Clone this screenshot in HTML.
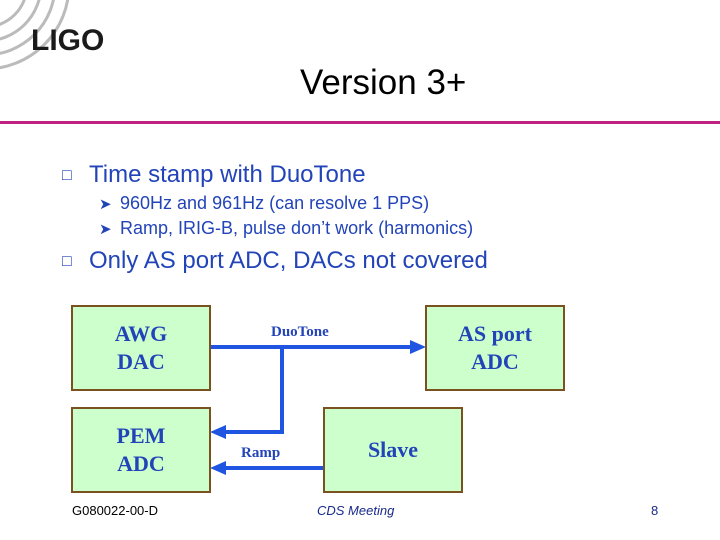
<!DOCTYPE html>
<html><head><meta charset="utf-8"><style>
body{margin:0;width:720px;height:540px;background:#fff;position:relative;overflow:hidden;font-family:"Liberation Sans",sans-serif}
.a{position:absolute;white-space:nowrap}
.t{color:#2244b8}
.box{position:absolute;background:#ccffcc;border:2px solid #7a5220;box-sizing:border-box;display:flex;align-items:center;justify-content:center;text-align:center;font-family:"Liberation Serif",serif;font-weight:bold;font-size:22px;line-height:28px;color:#2244b8}
.lbl{position:absolute;font-family:"Liberation Serif",serif;font-weight:bold;font-size:15px;color:#2244b8}
</style></head><body>
<svg class="a" style="left:0;top:0" width="720" height="540">
<g fill="none" stroke="#bbb" stroke-width="3">
<circle cx="-15" cy="-15" r="42"/><circle cx="-15" cy="-15" r="56"/><circle cx="-15" cy="-15" r="70"/><circle cx="-15" cy="-15" r="84"/>
</g>
<rect x="0" y="121" width="720" height="3" fill="#c0207f"/>
<g stroke="#1f55e0" stroke-width="4" fill="none">
<line x1="210" y1="347" x2="412" y2="347"/>
<polyline points="282,347 282,432 224,432"/>
<line x1="324" y1="468" x2="224" y2="468"/>
</g>
<g fill="#1f55e0">
<polygon points="426,347 410,340 410,354"/>
<polygon points="210,432 226,425 226,439"/>
<polygon points="210,468 226,461 226,475"/>
</g>
</svg>
<div class="a" style="left:31px;top:24px;font-size:30px;font-weight:bold;color:#1a1a1a;letter-spacing:0px">LIGO</div>
<div class="a" style="left:300px;top:63px;font-size:35px;color:#000">Version 3+</div>
<div class="a t" style="left:62px;top:167px;font-size:16px">&#9633;</div>
<div class="a t" style="left:89px;top:161px;font-size:24px">Time stamp with DuoTone</div>
<div class="a t" style="left:99px;top:195px;font-size:15px">&#10148;</div>
<div class="a t" style="left:120px;top:193px;font-size:18px">960Hz and 961Hz (can resolve 1 PPS)</div>
<div class="a t" style="left:99px;top:220px;font-size:15px">&#10148;</div>
<div class="a t" style="left:120px;top:218px;font-size:18px">Ramp, IRIG-B, pulse don’t work (harmonics)</div>
<div class="a t" style="left:62px;top:253px;font-size:16px">&#9633;</div>
<div class="a t" style="left:89px;top:247px;font-size:24px">Only AS port ADC, DACs not covered</div>
<div class="box" style="left:71px;top:305px;width:140px;height:86px">AWG<br>DAC</div>
<div class="box" style="left:71px;top:407px;width:140px;height:86px">PEM<br>ADC</div>
<div class="box" style="left:425px;top:305px;width:140px;height:86px">AS port<br>ADC</div>
<div class="box" style="left:323px;top:407px;width:140px;height:86px">Slave</div>
<div class="lbl" style="left:271px;top:324px">DuoTone</div>
<div class="lbl" style="left:241px;top:445px">Ramp</div>
<div class="a" style="left:72px;top:503px;font-size:13px">G080022-00-D</div>
<div class="a" style="left:317px;top:503px;font-size:13px;font-style:italic;color:#1a2a8a">CDS Meeting</div>
<div class="a" style="left:651px;top:503px;font-size:13px;color:#1a2a8a">8</div>
</body></html>
